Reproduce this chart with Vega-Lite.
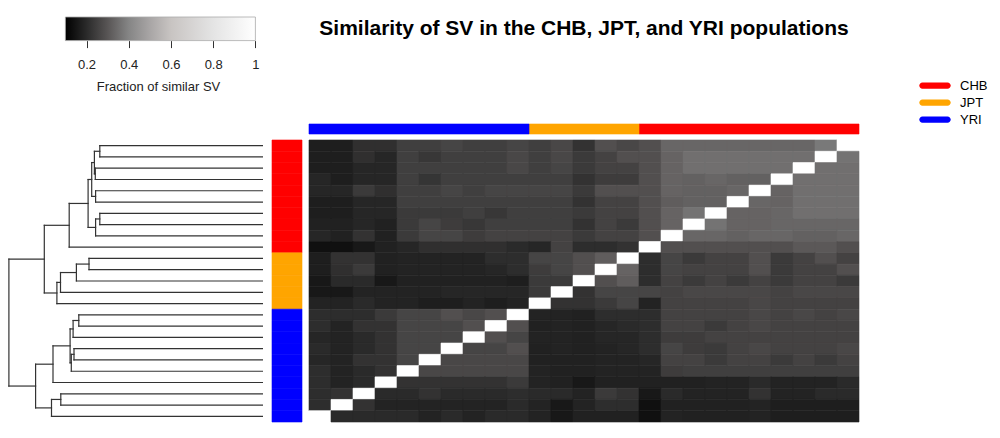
{
  "$schema": "https://vega.github.io/schema/vega-lite/v6.json",
  "background": "white",
  "padding": {"left": 5, "top": 16, "right": 5, "bottom": 5},
  "config": {"font": "Liberation Sans", "view": {"stroke": null}},
  "columns": 3,
  "align": "each",
  "bounds": "flush",
  "spacing": {"row": 6, "column": 7},
  "resolve": {"scale": {"fill": "shared"}, "legend": {"fill": "shared"}},
  "datasets": {
    "samples": [
      {"r":1,"c":25,"pop":"CHB"},{"r":2,"c":24,"pop":"CHB"},{"r":3,"c":23,"pop":"CHB"},{"r":4,"c":22,"pop":"CHB"},{"r":5,"c":21,"pop":"CHB"},
      {"r":6,"c":20,"pop":"CHB"},{"r":7,"c":19,"pop":"CHB"},{"r":8,"c":18,"pop":"CHB"},{"r":9,"c":17,"pop":"CHB"},{"r":10,"c":16,"pop":"CHB"},
      {"r":11,"c":15,"pop":"JPT"},{"r":12,"c":14,"pop":"JPT"},{"r":13,"c":13,"pop":"JPT"},{"r":14,"c":12,"pop":"JPT"},{"r":15,"c":11,"pop":"JPT"},
      {"r":16,"c":10,"pop":"YRI"},{"r":17,"c":9,"pop":"YRI"},{"r":18,"c":8,"pop":"YRI"},{"r":19,"c":7,"pop":"YRI"},{"r":20,"c":6,"pop":"YRI"},
      {"r":21,"c":5,"pop":"YRI"},{"r":22,"c":4,"pop":"YRI"},{"r":23,"c":3,"pop":"YRI"},{"r":24,"c":2,"pop":"YRI"},{"r":25,"c":1,"pop":"YRI"}
    ],
    "tree": [
      {"id":"n1","h":0.542,"ly":1,"lh":0,"ry":2,"rh":0},
      {"id":"n2","h":0.557,"ly":3,"lh":0,"ry":4,"rh":0},
      {"id":"n3","h":0.560,"ly":1.5,"lh":0.542,"ry":3.5,"rh":0.557},
      {"id":"n4","h":0.556,"ly":5,"lh":0,"ry":6,"rh":0},
      {"id":"n5","h":0.569,"ly":2.5,"lh":0.560,"ry":5.5,"rh":0.556},
      {"id":"n6","h":0.542,"ly":7,"lh":0,"ry":8,"rh":0},
      {"id":"n7","h":0.556,"ly":7.5,"lh":0.542,"ry":9,"rh":0},
      {"id":"n8","h":0.581,"ly":4,"lh":0.569,"ry":8.25,"rh":0.556},
      {"id":"n9","h":0.644,"ly":6.125,"lh":0.581,"ry":10,"rh":0},
      {"id":"n10","h":0.578,"ly":11,"lh":0,"ry":12,"rh":0},
      {"id":"n11","h":0.620,"ly":11.5,"lh":0.578,"ry":13,"rh":0},
      {"id":"n12","h":0.673,"ly":12.25,"lh":0.620,"ry":14,"rh":0},
      {"id":"n13","h":0.685,"ly":13.125,"lh":0.673,"ry":15,"rh":0},
      {"id":"n14","h":0.727,"ly":8.0625,"lh":0.644,"ry":14.0625,"rh":0.685},
      {"id":"n15","h":0.612,"ly":16,"lh":0,"ry":17,"rh":0},
      {"id":"n16","h":0.631,"ly":16.5,"lh":0.612,"ry":18,"rh":0},
      {"id":"n17","h":0.628,"ly":19,"lh":0,"ry":20,"rh":0},
      {"id":"n18","h":0.637,"ly":19.5,"lh":0.628,"ry":21,"rh":0},
      {"id":"n19","h":0.641,"ly":17.25,"lh":0.631,"ry":20.25,"rh":0.637},
      {"id":"n20","h":0.698,"ly":18.75,"lh":0.641,"ry":22,"rh":0},
      {"id":"n21","h":0.672,"ly":23,"lh":0,"ry":24,"rh":0},
      {"id":"n22","h":0.703,"ly":23.5,"lh":0.672,"ry":25,"rh":0},
      {"id":"n23","h":0.756,"ly":20.375,"lh":0.698,"ry":24.25,"rh":0.703},
      {"id":"n24","h":0.845,"ly":11.0625,"lh":0.727,"ry":22.3125,"rh":0.756}
    ],
    "similarity": [
      {"r":1,"c":1,"v":0.167},{"r":1,"c":2,"v":0.167},{"r":1,"c":3,"v":0.213},{"r":1,"c":4,"v":0.213},{"r":1,"c":5,"v":0.25},{"r":1,"c":6,"v":0.25},{"r":1,"c":7,"v":0.263},{"r":1,"c":8,"v":0.25},{"r":1,"c":9,"v":0.25},{"r":1,"c":10,"v":0.263},{"r":1,"c":11,"v":0.25},{"r":1,"c":12,"v":0.269},{"r":1,"c":13,"v":0.22},{"r":1,"c":14,"v":0.287},{"r":1,"c":15,"v":0.269},{"r":1,"c":16,"v":0.287},{"r":1,"c":17,"v":0.337},{"r":1,"c":18,"v":0.337},{"r":1,"c":19,"v":0.337},{"r":1,"c":20,"v":0.337},{"r":1,"c":21,"v":0.337},{"r":1,"c":22,"v":0.337},{"r":1,"c":23,"v":0.337},{"r":1,"c":24,"v":0.375},{"r":1,"c":25,"v":1},
      {"r":2,"c":1,"v":0.167},{"r":2,"c":2,"v":0.167},{"r":2,"c":3,"v":0.213},{"r":2,"c":4,"v":0.188},{"r":2,"c":5,"v":0.25},{"r":2,"c":6,"v":0.232},{"r":2,"c":7,"v":0.25},{"r":2,"c":8,"v":0.25},{"r":2,"c":9,"v":0.25},{"r":2,"c":10,"v":0.269},{"r":2,"c":11,"v":0.25},{"r":2,"c":12,"v":0.269},{"r":2,"c":13,"v":0.238},{"r":2,"c":14,"v":0.257},{"r":2,"c":15,"v":0.287},{"r":2,"c":16,"v":0.287},{"r":2,"c":17,"v":0.331},{"r":2,"c":18,"v":0.356},{"r":2,"c":19,"v":0.356},{"r":2,"c":20,"v":0.356},{"r":2,"c":21,"v":0.356},{"r":2,"c":22,"v":0.356},{"r":2,"c":23,"v":0.356},{"r":2,"c":24,"v":1},{"r":2,"c":25,"v":0.363},
      {"r":3,"c":1,"v":0.167},{"r":3,"c":2,"v":0.167},{"r":3,"c":3,"v":0.188},{"r":3,"c":4,"v":0.188},{"r":3,"c":5,"v":0.25},{"r":3,"c":6,"v":0.25},{"r":3,"c":7,"v":0.25},{"r":3,"c":8,"v":0.25},{"r":3,"c":9,"v":0.25},{"r":3,"c":10,"v":0.269},{"r":3,"c":11,"v":0.25},{"r":3,"c":12,"v":0.263},{"r":3,"c":13,"v":0.238},{"r":3,"c":14,"v":0.257},{"r":3,"c":15,"v":0.257},{"r":3,"c":16,"v":0.287},{"r":3,"c":17,"v":0.331},{"r":3,"c":18,"v":0.356},{"r":3,"c":19,"v":0.356},{"r":3,"c":20,"v":0.356},{"r":3,"c":21,"v":0.356},{"r":3,"c":22,"v":0.356},{"r":3,"c":23,"v":1},{"r":3,"c":24,"v":0.356},{"r":3,"c":25,"v":0.356},
      {"r":4,"c":1,"v":0.188},{"r":4,"c":2,"v":0.167},{"r":4,"c":3,"v":0.188},{"r":4,"c":4,"v":0.188},{"r":4,"c":5,"v":0.25},{"r":4,"c":6,"v":0.226},{"r":4,"c":7,"v":0.25},{"r":4,"c":8,"v":0.25},{"r":4,"c":9,"v":0.25},{"r":4,"c":10,"v":0.25},{"r":4,"c":11,"v":0.25},{"r":4,"c":12,"v":0.25},{"r":4,"c":13,"v":0.22},{"r":4,"c":14,"v":0.244},{"r":4,"c":15,"v":0.244},{"r":4,"c":16,"v":0.287},{"r":4,"c":17,"v":0.331},{"r":4,"c":18,"v":0.325},{"r":4,"c":19,"v":0.337},{"r":4,"c":20,"v":0.325},{"r":4,"c":21,"v":0.325},{"r":4,"c":22,"v":1},{"r":4,"c":23,"v":0.356},{"r":4,"c":24,"v":0.356},{"r":4,"c":25,"v":0.356},
      {"r":5,"c":1,"v":0.188},{"r":5,"c":2,"v":0.188},{"r":5,"c":3,"v":0.238},{"r":5,"c":4,"v":0.213},{"r":5,"c":5,"v":0.25},{"r":5,"c":6,"v":0.25},{"r":5,"c":7,"v":0.263},{"r":5,"c":8,"v":0.25},{"r":5,"c":9,"v":0.263},{"r":5,"c":10,"v":0.263},{"r":5,"c":11,"v":0.263},{"r":5,"c":12,"v":0.263},{"r":5,"c":13,"v":0.238},{"r":5,"c":14,"v":0.287},{"r":5,"c":15,"v":0.287},{"r":5,"c":16,"v":0.287},{"r":5,"c":17,"v":0.331},{"r":5,"c":18,"v":0.325},{"r":5,"c":19,"v":0.325},{"r":5,"c":20,"v":0.337},{"r":5,"c":21,"v":1},{"r":5,"c":22,"v":0.331},{"r":5,"c":23,"v":0.356},{"r":5,"c":24,"v":0.356},{"r":5,"c":25,"v":0.356},
      {"r":6,"c":1,"v":0.167},{"r":6,"c":2,"v":0.167},{"r":6,"c":3,"v":0.188},{"r":6,"c":4,"v":0.188},{"r":6,"c":5,"v":0.25},{"r":6,"c":6,"v":0.25},{"r":6,"c":7,"v":0.25},{"r":6,"c":8,"v":0.25},{"r":6,"c":9,"v":0.25},{"r":6,"c":10,"v":0.25},{"r":6,"c":11,"v":0.25},{"r":6,"c":12,"v":0.25},{"r":6,"c":13,"v":0.22},{"r":6,"c":14,"v":0.257},{"r":6,"c":15,"v":0.257},{"r":6,"c":16,"v":0.287},{"r":6,"c":17,"v":0.318},{"r":6,"c":18,"v":0.325},{"r":6,"c":19,"v":0.325},{"r":6,"c":20,"v":1},{"r":6,"c":21,"v":0.337},{"r":6,"c":22,"v":0.331},{"r":6,"c":23,"v":0.356},{"r":6,"c":24,"v":0.356},{"r":6,"c":25,"v":0.356},
      {"r":7,"c":1,"v":0.167},{"r":7,"c":2,"v":0.167},{"r":7,"c":3,"v":0.188},{"r":7,"c":4,"v":0.188},{"r":7,"c":5,"v":0.238},{"r":7,"c":6,"v":0.238},{"r":7,"c":7,"v":0.238},{"r":7,"c":8,"v":0.25},{"r":7,"c":9,"v":0.232},{"r":7,"c":10,"v":0.25},{"r":7,"c":11,"v":0.25},{"r":7,"c":12,"v":0.25},{"r":7,"c":13,"v":0.238},{"r":7,"c":14,"v":0.257},{"r":7,"c":15,"v":0.257},{"r":7,"c":16,"v":0.287},{"r":7,"c":17,"v":0.331},{"r":7,"c":18,"v":0.363},{"r":7,"c":19,"v":1},{"r":7,"c":20,"v":0.331},{"r":7,"c":21,"v":0.331},{"r":7,"c":22,"v":0.337},{"r":7,"c":23,"v":0.356},{"r":7,"c":24,"v":0.356},{"r":7,"c":25,"v":0.356},
      {"r":8,"c":1,"v":0.174},{"r":8,"c":2,"v":0.174},{"r":8,"c":3,"v":0.188},{"r":8,"c":4,"v":0.174},{"r":8,"c":5,"v":0.238},{"r":8,"c":6,"v":0.263},{"r":8,"c":7,"v":0.244},{"r":8,"c":8,"v":0.232},{"r":8,"c":9,"v":0.25},{"r":8,"c":10,"v":0.25},{"r":8,"c":11,"v":0.25},{"r":8,"c":12,"v":0.25},{"r":8,"c":13,"v":0.22},{"r":8,"c":14,"v":0.257},{"r":8,"c":15,"v":0.238},{"r":8,"c":16,"v":0.287},{"r":8,"c":17,"v":0.331},{"r":8,"c":18,"v":1},{"r":8,"c":19,"v":0.363},{"r":8,"c":20,"v":0.331},{"r":8,"c":21,"v":0.331},{"r":8,"c":22,"v":0.337},{"r":8,"c":23,"v":0.337},{"r":8,"c":24,"v":0.337},{"r":8,"c":25,"v":0.337},
      {"r":9,"c":1,"v":0.188},{"r":9,"c":2,"v":0.174},{"r":9,"c":3,"v":0.22},{"r":9,"c":4,"v":0.174},{"r":9,"c":5,"v":0.238},{"r":9,"c":6,"v":0.263},{"r":9,"c":7,"v":0.263},{"r":9,"c":8,"v":0.244},{"r":9,"c":9,"v":0.257},{"r":9,"c":10,"v":0.257},{"r":9,"c":11,"v":0.257},{"r":9,"c":12,"v":0.257},{"r":9,"c":13,"v":0.238},{"r":9,"c":14,"v":0.257},{"r":9,"c":15,"v":0.257},{"r":9,"c":16,"v":0.287},{"r":9,"c":17,"v":1},{"r":9,"c":18,"v":0.337},{"r":9,"c":19,"v":0.337},{"r":9,"c":20,"v":0.325},{"r":9,"c":21,"v":0.337},{"r":9,"c":22,"v":0.337},{"r":9,"c":23,"v":0.325},{"r":9,"c":24,"v":0.325},{"r":9,"c":25,"v":0.337},
      {"r":10,"c":1,"v":0.127},{"r":10,"c":2,"v":0.127},{"r":10,"c":3,"v":0.147},{"r":10,"c":4,"v":0.174},{"r":10,"c":5,"v":0.188},{"r":10,"c":6,"v":0.213},{"r":10,"c":7,"v":0.213},{"r":10,"c":8,"v":0.213},{"r":10,"c":9,"v":0.213},{"r":10,"c":10,"v":0.201},{"r":10,"c":11,"v":0.188},{"r":10,"c":12,"v":0.257},{"r":10,"c":13,"v":0.207},{"r":10,"c":14,"v":0.207},{"r":10,"c":15,"v":0.22},{"r":10,"c":16,"v":1},{"r":10,"c":17,"v":0.287},{"r":10,"c":18,"v":0.287},{"r":10,"c":19,"v":0.287},{"r":10,"c":20,"v":0.287},{"r":10,"c":21,"v":0.287},{"r":10,"c":22,"v":0.287},{"r":10,"c":23,"v":0.306},{"r":10,"c":24,"v":0.306},{"r":10,"c":25,"v":0.287},
      {"r":11,"c":1,"v":0.167},{"r":11,"c":2,"v":0.22},{"r":11,"c":3,"v":0.22},{"r":11,"c":4,"v":0.174},{"r":11,"c":5,"v":0.181},{"r":11,"c":6,"v":0.181},{"r":11,"c":7,"v":0.181},{"r":11,"c":8,"v":0.181},{"r":11,"c":9,"v":0.207},{"r":11,"c":10,"v":0.207},{"r":11,"c":11,"v":0.263},{"r":11,"c":12,"v":0.263},{"r":11,"c":13,"v":0.287},{"r":11,"c":14,"v":0.318},{"r":11,"c":15,"v":1},{"r":11,"c":16,"v":0.207},{"r":11,"c":17,"v":0.263},{"r":11,"c":18,"v":0.238},{"r":11,"c":19,"v":0.257},{"r":11,"c":20,"v":0.257},{"r":11,"c":21,"v":0.287},{"r":11,"c":22,"v":0.238},{"r":11,"c":23,"v":0.257},{"r":11,"c":24,"v":0.287},{"r":11,"c":25,"v":0.257},
      {"r":12,"c":1,"v":0.167},{"r":12,"c":2,"v":0.213},{"r":12,"c":3,"v":0.238},{"r":12,"c":4,"v":0.174},{"r":12,"c":5,"v":0.181},{"r":12,"c":6,"v":0.181},{"r":12,"c":7,"v":0.181},{"r":12,"c":8,"v":0.181},{"r":12,"c":9,"v":0.188},{"r":12,"c":10,"v":0.207},{"r":12,"c":11,"v":0.244},{"r":12,"c":12,"v":0.263},{"r":12,"c":13,"v":0.287},{"r":12,"c":14,"v":1},{"r":12,"c":15,"v":0.331},{"r":12,"c":16,"v":0.207},{"r":12,"c":17,"v":0.263},{"r":12,"c":18,"v":0.257},{"r":12,"c":19,"v":0.257},{"r":12,"c":20,"v":0.257},{"r":12,"c":21,"v":0.287},{"r":12,"c":22,"v":0.238},{"r":12,"c":23,"v":0.257},{"r":12,"c":24,"v":0.257},{"r":12,"c":25,"v":0.287},
      {"r":13,"c":1,"v":0.147},{"r":13,"c":2,"v":0.201},{"r":13,"c":3,"v":0.201},{"r":13,"c":4,"v":0.147},{"r":13,"c":5,"v":0.174},{"r":13,"c":6,"v":0.174},{"r":13,"c":7,"v":0.174},{"r":13,"c":8,"v":0.174},{"r":13,"c":9,"v":0.174},{"r":13,"c":10,"v":0.167},{"r":13,"c":11,"v":0.238},{"r":13,"c":12,"v":0.238},{"r":13,"c":13,"v":1},{"r":13,"c":14,"v":0.287},{"r":13,"c":15,"v":0.318},{"r":13,"c":16,"v":0.207},{"r":13,"c":17,"v":0.257},{"r":13,"c":18,"v":0.238},{"r":13,"c":19,"v":0.257},{"r":13,"c":20,"v":0.238},{"r":13,"c":21,"v":0.257},{"r":13,"c":22,"v":0.238},{"r":13,"c":23,"v":0.257},{"r":13,"c":24,"v":0.257},{"r":13,"c":25,"v":0.238},
      {"r":14,"c":1,"v":0.147},{"r":14,"c":2,"v":0.147},{"r":14,"c":3,"v":0.181},{"r":14,"c":4,"v":0.181},{"r":14,"c":5,"v":0.181},{"r":14,"c":6,"v":0.181},{"r":14,"c":7,"v":0.188},{"r":14,"c":8,"v":0.188},{"r":14,"c":9,"v":0.188},{"r":14,"c":10,"v":0.188},{"r":14,"c":11,"v":0.238},{"r":14,"c":12,"v":1},{"r":14,"c":13,"v":0.22},{"r":14,"c":14,"v":0.263},{"r":14,"c":15,"v":0.263},{"r":14,"c":16,"v":0.263},{"r":14,"c":17,"v":0.257},{"r":14,"c":18,"v":0.269},{"r":14,"c":19,"v":0.269},{"r":14,"c":20,"v":0.269},{"r":14,"c":21,"v":0.269},{"r":14,"c":22,"v":0.257},{"r":14,"c":23,"v":0.269},{"r":14,"c":24,"v":0.269},{"r":14,"c":25,"v":0.269},
      {"r":15,"c":1,"v":0.181},{"r":15,"c":2,"v":0.181},{"r":15,"c":3,"v":0.201},{"r":15,"c":4,"v":0.181},{"r":15,"c":5,"v":0.181},{"r":15,"c":6,"v":0.167},{"r":15,"c":7,"v":0.167},{"r":15,"c":8,"v":0.181},{"r":15,"c":9,"v":0.167},{"r":15,"c":10,"v":0.181},{"r":15,"c":11,"v":1},{"r":15,"c":12,"v":0.22},{"r":15,"c":13,"v":0.22},{"r":15,"c":14,"v":0.238},{"r":15,"c":15,"v":0.263},{"r":15,"c":16,"v":0.181},{"r":15,"c":17,"v":0.257},{"r":15,"c":18,"v":0.257},{"r":15,"c":19,"v":0.257},{"r":15,"c":20,"v":0.257},{"r":15,"c":21,"v":0.269},{"r":15,"c":22,"v":0.257},{"r":15,"c":23,"v":0.257},{"r":15,"c":24,"v":0.257},{"r":15,"c":25,"v":0.257},
      {"r":16,"c":1,"v":0.207},{"r":16,"c":2,"v":0.207},{"r":16,"c":3,"v":0.207},{"r":16,"c":4,"v":0.238},{"r":16,"c":5,"v":0.263},{"r":16,"c":6,"v":0.263},{"r":16,"c":7,"v":0.287},{"r":16,"c":8,"v":0.269},{"r":16,"c":9,"v":0.287},{"r":16,"c":10,"v":1},{"r":16,"c":11,"v":0.181},{"r":16,"c":12,"v":0.181},{"r":16,"c":13,"v":0.174},{"r":16,"c":14,"v":0.207},{"r":16,"c":15,"v":0.207},{"r":16,"c":16,"v":0.207},{"r":16,"c":17,"v":0.257},{"r":16,"c":18,"v":0.257},{"r":16,"c":19,"v":0.257},{"r":16,"c":20,"v":0.257},{"r":16,"c":21,"v":0.269},{"r":16,"c":22,"v":0.257},{"r":16,"c":23,"v":0.269},{"r":16,"c":24,"v":0.257},{"r":16,"c":25,"v":0.269},
      {"r":17,"c":1,"v":0.207},{"r":17,"c":2,"v":0.181},{"r":17,"c":3,"v":0.22},{"r":17,"c":4,"v":0.22},{"r":17,"c":5,"v":0.263},{"r":17,"c":6,"v":0.263},{"r":17,"c":7,"v":0.263},{"r":17,"c":8,"v":0.287},{"r":17,"c":9,"v":1},{"r":17,"c":10,"v":0.287},{"r":17,"c":11,"v":0.174},{"r":17,"c":12,"v":0.181},{"r":17,"c":13,"v":0.174},{"r":17,"c":14,"v":0.188},{"r":17,"c":15,"v":0.201},{"r":17,"c":16,"v":0.207},{"r":17,"c":17,"v":0.257},{"r":17,"c":18,"v":0.257},{"r":17,"c":19,"v":0.238},{"r":17,"c":20,"v":0.257},{"r":17,"c":21,"v":0.269},{"r":17,"c":22,"v":0.257},{"r":17,"c":23,"v":0.257},{"r":17,"c":24,"v":0.257},{"r":17,"c":25,"v":0.257},
      {"r":18,"c":1,"v":0.188},{"r":18,"c":2,"v":0.181},{"r":18,"c":3,"v":0.201},{"r":18,"c":4,"v":0.22},{"r":18,"c":5,"v":0.263},{"r":18,"c":6,"v":0.263},{"r":18,"c":7,"v":0.263},{"r":18,"c":8,"v":1},{"r":18,"c":9,"v":0.287},{"r":18,"c":10,"v":0.263},{"r":18,"c":11,"v":0.181},{"r":18,"c":12,"v":0.181},{"r":18,"c":13,"v":0.174},{"r":18,"c":14,"v":0.188},{"r":18,"c":15,"v":0.188},{"r":18,"c":16,"v":0.207},{"r":18,"c":17,"v":0.244},{"r":18,"c":18,"v":0.244},{"r":18,"c":19,"v":0.257},{"r":18,"c":20,"v":0.257},{"r":18,"c":21,"v":0.257},{"r":18,"c":22,"v":0.257},{"r":18,"c":23,"v":0.257},{"r":18,"c":24,"v":0.257},{"r":18,"c":25,"v":0.257},
      {"r":19,"c":1,"v":0.201},{"r":19,"c":2,"v":0.181},{"r":19,"c":3,"v":0.201},{"r":19,"c":4,"v":0.22},{"r":19,"c":5,"v":0.263},{"r":19,"c":6,"v":0.263},{"r":19,"c":7,"v":1},{"r":19,"c":8,"v":0.263},{"r":19,"c":9,"v":0.263},{"r":19,"c":10,"v":0.287},{"r":19,"c":11,"v":0.174},{"r":19,"c":12,"v":0.181},{"r":19,"c":13,"v":0.174},{"r":19,"c":14,"v":0.181},{"r":19,"c":15,"v":0.188},{"r":19,"c":16,"v":0.207},{"r":19,"c":17,"v":0.263},{"r":19,"c":18,"v":0.244},{"r":19,"c":19,"v":0.238},{"r":19,"c":20,"v":0.257},{"r":19,"c":21,"v":0.269},{"r":19,"c":22,"v":0.257},{"r":19,"c":23,"v":0.257},{"r":19,"c":24,"v":0.257},{"r":19,"c":25,"v":0.269},
      {"r":20,"c":1,"v":0.188},{"r":20,"c":2,"v":0.181},{"r":20,"c":3,"v":0.22},{"r":20,"c":4,"v":0.22},{"r":20,"c":5,"v":0.263},{"r":20,"c":6,"v":1},{"r":20,"c":7,"v":0.269},{"r":20,"c":8,"v":0.269},{"r":20,"c":9,"v":0.269},{"r":20,"c":10,"v":0.269},{"r":20,"c":11,"v":0.174},{"r":20,"c":12,"v":0.174},{"r":20,"c":13,"v":0.174},{"r":20,"c":14,"v":0.181},{"r":20,"c":15,"v":0.181},{"r":20,"c":16,"v":0.188},{"r":20,"c":17,"v":0.257},{"r":20,"c":18,"v":0.257},{"r":20,"c":19,"v":0.238},{"r":20,"c":20,"v":0.257},{"r":20,"c":21,"v":0.257},{"r":20,"c":22,"v":0.238},{"r":20,"c":23,"v":0.257},{"r":20,"c":24,"v":0.238},{"r":20,"c":25,"v":0.257},
      {"r":21,"c":1,"v":0.207},{"r":21,"c":2,"v":0.181},{"r":21,"c":3,"v":0.201},{"r":21,"c":4,"v":0.22},{"r":21,"c":5,"v":1},{"r":21,"c":6,"v":0.269},{"r":21,"c":7,"v":0.269},{"r":21,"c":8,"v":0.269},{"r":21,"c":9,"v":0.269},{"r":21,"c":10,"v":0.269},{"r":21,"c":11,"v":0.181},{"r":21,"c":12,"v":0.174},{"r":21,"c":13,"v":0.174},{"r":21,"c":14,"v":0.181},{"r":21,"c":15,"v":0.181},{"r":21,"c":16,"v":0.181},{"r":21,"c":17,"v":0.244},{"r":21,"c":18,"v":0.25},{"r":21,"c":19,"v":0.25},{"r":21,"c":20,"v":0.25},{"r":21,"c":21,"v":0.25},{"r":21,"c":22,"v":0.25},{"r":21,"c":23,"v":0.25},{"r":21,"c":24,"v":0.25},{"r":21,"c":25,"v":0.25},
      {"r":22,"c":1,"v":0.207},{"r":22,"c":2,"v":0.181},{"r":22,"c":3,"v":0.201},{"r":22,"c":4,"v":1},{"r":22,"c":5,"v":0.22},{"r":22,"c":6,"v":0.22},{"r":22,"c":7,"v":0.22},{"r":22,"c":8,"v":0.22},{"r":22,"c":9,"v":0.22},{"r":22,"c":10,"v":0.238},{"r":22,"c":11,"v":0.181},{"r":22,"c":12,"v":0.174},{"r":22,"c":13,"v":0.147},{"r":22,"c":14,"v":0.174},{"r":22,"c":15,"v":0.174},{"r":22,"c":16,"v":0.174},{"r":22,"c":17,"v":0.174},{"r":22,"c":18,"v":0.174},{"r":22,"c":19,"v":0.181},{"r":22,"c":20,"v":0.181},{"r":22,"c":21,"v":0.201},{"r":22,"c":22,"v":0.181},{"r":22,"c":23,"v":0.181},{"r":22,"c":24,"v":0.181},{"r":22,"c":25,"v":0.201},
      {"r":23,"c":1,"v":0.207},{"r":23,"c":2,"v":0.22},{"r":23,"c":3,"v":1},{"r":23,"c":4,"v":0.201},{"r":23,"c":5,"v":0.201},{"r":23,"c":6,"v":0.22},{"r":23,"c":7,"v":0.201},{"r":23,"c":8,"v":0.201},{"r":23,"c":9,"v":0.201},{"r":23,"c":10,"v":0.207},{"r":23,"c":11,"v":0.201},{"r":23,"c":12,"v":0.201},{"r":23,"c":13,"v":0.181},{"r":23,"c":14,"v":0.238},{"r":23,"c":15,"v":0.22},{"r":23,"c":16,"v":0.147},{"r":23,"c":17,"v":0.201},{"r":23,"c":18,"v":0.181},{"r":23,"c":19,"v":0.181},{"r":23,"c":20,"v":0.181},{"r":23,"c":21,"v":0.22},{"r":23,"c":22,"v":0.181},{"r":23,"c":23,"v":0.181},{"r":23,"c":24,"v":0.201},{"r":23,"c":25,"v":0.201},
      {"r":24,"c":1,"v":0.207},{"r":24,"c":2,"v":1},{"r":24,"c":3,"v":0.22},{"r":24,"c":4,"v":0.181},{"r":24,"c":5,"v":0.181},{"r":24,"c":6,"v":0.181},{"r":24,"c":7,"v":0.181},{"r":24,"c":8,"v":0.181},{"r":24,"c":9,"v":0.181},{"r":24,"c":10,"v":0.201},{"r":24,"c":11,"v":0.181},{"r":24,"c":12,"v":0.147},{"r":24,"c":13,"v":0.181},{"r":24,"c":14,"v":0.207},{"r":24,"c":15,"v":0.207},{"r":24,"c":16,"v":0.127},{"r":24,"c":17,"v":0.174},{"r":24,"c":18,"v":0.174},{"r":24,"c":19,"v":0.174},{"r":24,"c":20,"v":0.174},{"r":24,"c":21,"v":0.181},{"r":24,"c":22,"v":0.167},{"r":24,"c":23,"v":0.167},{"r":24,"c":24,"v":0.167},{"r":24,"c":25,"v":0.167},
      {"r":25,"c":1,"v":1},{"r":25,"c":2,"v":0.201},{"r":25,"c":3,"v":0.201},{"r":25,"c":4,"v":0.201},{"r":25,"c":5,"v":0.201},{"r":25,"c":6,"v":0.181},{"r":25,"c":7,"v":0.201},{"r":25,"c":8,"v":0.181},{"r":25,"c":9,"v":0.201},{"r":25,"c":10,"v":0.201},{"r":25,"c":11,"v":0.181},{"r":25,"c":12,"v":0.147},{"r":25,"c":13,"v":0.174},{"r":25,"c":14,"v":0.174},{"r":25,"c":15,"v":0.174},{"r":25,"c":16,"v":0.127},{"r":25,"c":17,"v":0.181},{"r":25,"c":18,"v":0.174},{"r":25,"c":19,"v":0.174},{"r":25,"c":20,"v":0.174},{"r":25,"c":21,"v":0.181},{"r":25,"c":22,"v":0.167},{"r":25,"c":23,"v":0.167},{"r":25,"c":24,"v":0.167},{"r":25,"c":25,"v":0.167}
    ]
  },
  "concat": [
    {
      "width": 260,
      "height": 23.6,
      "data": {"values": [{"lo": 0.1, "hi": 1}]},
      "mark": {
        "type": "rect",
        "fill": {
          "gradient": "linear",
          "stops": [
            {"offset": 0, "color": "#000000"},
            {"offset": 0.111, "color": "#2a2a2a"},
            {"offset": 0.222, "color": "#585555"},
            {"offset": 0.333, "color": "#858585"},
            {"offset": 0.444, "color": "#a8a5a5"},
            {"offset": 0.556, "color": "#c8c4c2"},
            {"offset": 0.778, "color": "#e4e4e4"},
            {"offset": 1, "color": "#ffffff"}
          ]
        },
        "stroke": "#aaaaaa",
        "strokeWidth": 0.8
      },
      "encoding": {
        "x": {
          "field": "lo",
          "type": "quantitative",
          "scale": {"domain": [-0.1861, 1.0455], "nice": false, "zero": false},
          "axis": {
            "values": [0.2, 0.4, 0.6, 0.8, 1],
            "format": "~g",
            "domain": false,
            "grid": false,
            "tickSize": 7,
            "tickColor": "#333333",
            "tickWidth": 1,
            "labelFontSize": 13,
            "labelColor": "#222222",
            "labelPadding": 11,
            "labelFlush": false,
            "labelOverlap": false,
            "title": "Fraction of similar SV",
            "titleFontSize": 13,
            "titleFontWeight": "normal",
            "titleColor": "#222222",
            "titlePadding": 9,
            "titleX": 153,
            "titleAlign": "center"
          }
        },
        "x2": {"field": "hi"}
      }
    },
    {"width": 1, "height": 1, "data": {"values": []}, "mark": "point"},
    {
      "width": 550,
      "height": 100.3,
      "data": {"values": []},
      "mark": "point",
      "title": {
        "text": "Similarity of SV in the CHB, JPT, and  YRI populations",
        "fontSize": 21,
        "fontWeight": "bold",
        "color": "#000000",
        "anchor": "middle",
        "offset": -22
      }
    },
    {"width": 1, "height": 1, "data": {"values": []}, "mark": "point"},
    {"width": 1, "height": 1, "data": {"values": []}, "mark": "point"},
    {
      "width": 550,
      "height": 10,
      "data": {"name": "samples"},
      "mark": {"type": "rect", "strokeWidth": 0.6},
      "encoding": {
        "x": {"field": "c", "type": "ordinal", "axis": null},
        "fill": {
          "field": "pop",
          "type": "nominal",
          "scale": {"domain": ["CHB", "JPT", "YRI"], "range": ["#ff0000", "#ffa500", "#0000ff"]},
          "legend": {
            "title": null,
            "orient": "none",
            "legendX": 914,
            "legendY": 60.3,
            "padding": 0,
            "symbolType": "M-0.8,-0.2H0.8A0.2,0.2 0 0 1 0.8,0.2H-0.8A0.2,0.2 0 0 1 -0.8,-0.2Z",
            "symbolSize": 986,
            "symbolStrokeWidth": 0,
            "clipHeight": 16.5,
            "rowPadding": 0,
            "labelFontSize": 13,
            "labelColor": "#000000",
            "labelOffset": 9
          }
        },
        "stroke": {
          "field": "pop",
          "type": "nominal",
          "scale": {"domain": ["CHB", "JPT", "YRI"], "range": ["#ff0000", "#ffa500", "#0000ff"]},
          "legend": null
        }
      }
    },
    {
      "width": 260,
      "height": 282,
      "data": {"name": "tree"},
      "layer": [
        {
          "mark": {"type": "rule", "color": "#333333", "strokeWidth": 1.2, "strokeCap": "square"},
          "encoding": {
            "x": {"field": "h", "type": "quantitative", "scale": {"domain": [-0.00867, 0.858], "reverse": true, "nice": false, "zero": false}, "axis": null},
            "y": {"field": "ly", "type": "quantitative", "scale": {"domain": [0.5, 25.5], "reverse": true, "nice": false, "zero": false}, "axis": null},
            "y2": {"field": "ry"}
          }
        },
        {
          "mark": {"type": "rule", "color": "#333333", "strokeWidth": 1.2, "strokeCap": "square"},
          "encoding": {
            "x": {"field": "h", "type": "quantitative", "axis": null},
            "x2": {"field": "lh"},
            "y": {"field": "ly", "type": "quantitative", "axis": null}
          }
        },
        {
          "mark": {"type": "rule", "color": "#333333", "strokeWidth": 1.2, "strokeCap": "square"},
          "encoding": {
            "x": {"field": "h", "type": "quantitative", "axis": null},
            "x2": {"field": "rh"},
            "y": {"field": "ry", "type": "quantitative", "axis": null}
          }
        }
      ]
    },
    {
      "width": 30,
      "height": 282,
      "data": {"name": "samples"},
      "mark": {"type": "rect", "strokeWidth": 0.6},
      "encoding": {
        "y": {"field": "r", "type": "ordinal", "axis": null},
        "fill": {
          "field": "pop",
          "type": "nominal",
          "scale": {"domain": ["CHB", "JPT", "YRI"], "range": ["#ff0000", "#ffa500", "#0000ff"]},
          "legend": {
            "title": null,
            "orient": "none",
            "legendX": 914,
            "legendY": 60.3,
            "padding": 0,
            "symbolType": "M-0.8,-0.2H0.8A0.2,0.2 0 0 1 0.8,0.2H-0.8A0.2,0.2 0 0 1 -0.8,-0.2Z",
            "symbolSize": 986,
            "symbolStrokeWidth": 0,
            "clipHeight": 16.5,
            "rowPadding": 0,
            "labelFontSize": 13,
            "labelColor": "#000000",
            "labelOffset": 9
          }
        },
        "stroke": {
          "field": "pop",
          "type": "nominal",
          "scale": {"domain": ["CHB", "JPT", "YRI"], "range": ["#ff0000", "#ffa500", "#0000ff"]},
          "legend": null
        }
      }
    },
    {
      "width": 550,
      "height": 282,
      "data": {"name": "similarity"},
      "mark": {"type": "rect", "strokeWidth": 0.6},
      "encoding": {
        "x": {"field": "c", "type": "ordinal", "axis": null},
        "y": {"field": "r", "type": "ordinal", "axis": null},
        "color": {
          "field": "v",
          "type": "quantitative",
          "scale": {
            "domain": [0.1, 0.2, 0.3, 0.4, 0.5, 0.6, 0.8, 1],
            "range": ["#000000", "#2a2a2a", "#585555", "#858585", "#a8a5a5", "#c8c4c2", "#e4e4e4", "#ffffff"]
          },
          "legend": null
        },
        "stroke": {
          "field": "v",
          "type": "quantitative",
          "scale": {
            "domain": [0.1, 0.2, 0.3, 0.4, 0.5, 0.6, 0.8, 1],
            "range": ["#000000", "#2a2a2a", "#585555", "#858585", "#a8a5a5", "#c8c4c2", "#e4e4e4", "#ffffff"]
          },
          "legend": null
        }
      }
    }
  ]
}
